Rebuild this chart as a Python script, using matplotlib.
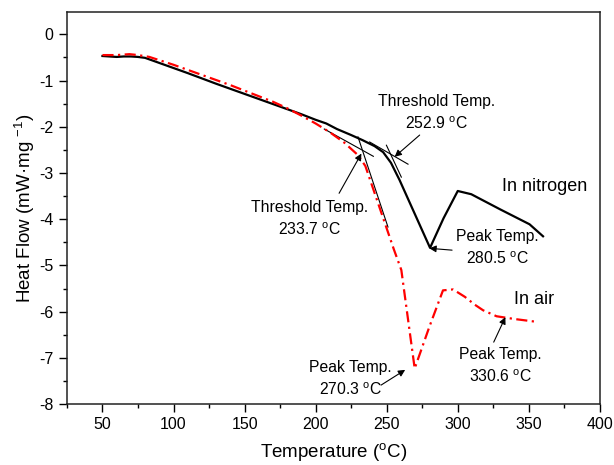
import matplotlib
matplotlib.use("Agg")
import matplotlib.pyplot as plt
from matplotlib.ticker import MultipleLocator

plt.rcParams["font.family"] = ["Liberation Sans", "DejaVu Sans"]
plt.rcParams["mathtext.fontset"] = "custom"
plt.rcParams["mathtext.rm"] = "Liberation Sans"
plt.rcParams["mathtext.it"] = "Liberation Sans:italic"
plt.rcParams["axes.unicode_minus"] = False

# DSC curves
n2_temp = [50, 55, 60, 65, 70, 75, 80, 90, 100, 110, 120, 130, 140, 150, 160, 170,
           180, 190, 200, 207.5, 215, 225, 233, 241.5, 247.5, 253, 259, 280.5,
           290, 300, 309.5, 330, 350.5, 360]
n2_flow = [-0.47, -0.48, -0.49, -0.48, -0.48, -0.49, -0.51, -0.62, -0.73, -0.84,
           -0.955, -1.07, -1.18, -1.29, -1.40, -1.51, -1.62, -1.73, -1.85, -1.93,
           -2.05, -2.18, -2.29, -2.42, -2.55, -2.78, -3.15, -4.62, -3.98, -3.39,
           -3.46, -3.79, -4.11, -4.37]

air_temp = [50, 60, 69, 75, 83, 90, 100, 110, 120, 130, 140, 150, 160, 170, 180,
            190, 200, 210, 220, 230, 235, 240, 245, 250, 255, 260.3, 269.7, 280,
            289.6, 296.7, 305, 312, 317.8, 327.3, 340, 355.4]
air_flow = [-0.45, -0.45, -0.43, -0.45, -0.49, -0.56, -0.66, -0.77, -0.88, -0.99,
            -1.10, -1.22, -1.34, -1.46, -1.60, -1.76, -1.93, -2.12, -2.34, -2.62,
            -2.85, -3.30, -3.75, -4.20, -4.65, -5.10, -7.23, -6.33, -5.54, -5.52,
            -5.68, -5.85, -5.97, -6.10, -6.16, -6.22]

# tangent construction lines (x pair, y pair)
tangent_lines = [
    ([206.1, 240.6], [-2.05, -2.64]),   # air baseline
    ([229.8, 250.9], [-2.22, -4.17]),   # air onset
    ([238.0, 265.0], [-2.33, -2.81]),   # nitrogen baseline
    ([249.8, 260.3], [-2.40, -3.09]),   # nitrogen onset
]

# annotations: label text, text position, arrow tail, arrow head
notes = [
    ("Threshold Temp.\n252.9 $^{\\mathrm{o}}$C", (285.2, -1.71), (273.2, -2.18), (255.6, -2.65)),
    ("Threshold Temp.\n233.7 $^{\\mathrm{o}}$C", (195.8, -4.0), (216.5, -3.44), (232.2, -2.58)),
    ("Peak Temp.\n280.5 $^{\\mathrm{o}}$C", (327.8, -4.62), (296.0, -4.67), (280.0, -4.63)),
    ("Peak Temp.\n270.3 $^{\\mathrm{o}}$C", (224.6, -7.45), (246.0, -7.59), (263.0, -7.26)),
    ("Peak Temp.\n330.6 $^{\\mathrm{o}}$C", (330.1, -7.18), (325.3, -6.66), (333.5, -6.12)),
]

fig = plt.figure(figsize=(6.14, 4.65), dpi=100)
ax = fig.add_axes([0.109, 0.131, 0.868, 0.843])

ax.plot(n2_temp, n2_flow, color="black", lw=1.6, zorder=3)
ax.plot(air_temp, air_flow, color="#ff0000", lw=1.6, dashes=[5, 2, 1, 2], zorder=3)

for xs, ys in tangent_lines:
    ax.plot(xs, ys, color="black", lw=0.8, zorder=2)

for label, txt_xy, tail, head in notes:
    ax.text(txt_xy[0], txt_xy[1], label, ha="center", va="center", fontsize=11.3,
            linespacing=1.45)
    ax.annotate("", xy=head, xytext=tail,
                arrowprops=dict(arrowstyle="-|>", color="black", lw=0.8,
                                mutation_scale=10, shrinkA=0, shrinkB=0))

ax.text(360.9, -3.29, "In nitrogen", ha="center", va="center", fontsize=13)
ax.text(353.5, -5.74, "In air", ha="center", va="center", fontsize=13)

ax.set_xlim(25, 400)
ax.set_ylim(-8, 0.48)
ax.xaxis.set_major_locator(MultipleLocator(50))
ax.xaxis.set_minor_locator(MultipleLocator(25))
ax.yaxis.set_major_locator(MultipleLocator(1))
ax.yaxis.set_minor_locator(MultipleLocator(0.5))
ax.set_xticks([50, 100, 150, 200, 250, 300, 350, 400])
ax.tick_params(which="major", direction="out", length=5.5, width=1, labelsize=11.5, pad=4)
ax.tick_params(which="minor", direction="out", length=3, width=1)
ax.tick_params(top=False, right=False, which="both")
for sp in ax.spines.values():
    sp.set_linewidth(1.1)
    sp.set_color("#222222")

ax.set_xlabel("Temperature ($^{\\mathrm{o}}$C)", fontsize=13.5, labelpad=6)
ax.set_ylabel("Heat Flow (mW\u00b7mg $^{\\mathrm{-1}}$)", fontsize=13.5, labelpad=2)

fig.savefig("out.png", dpi=100)
plt.close(fig)
